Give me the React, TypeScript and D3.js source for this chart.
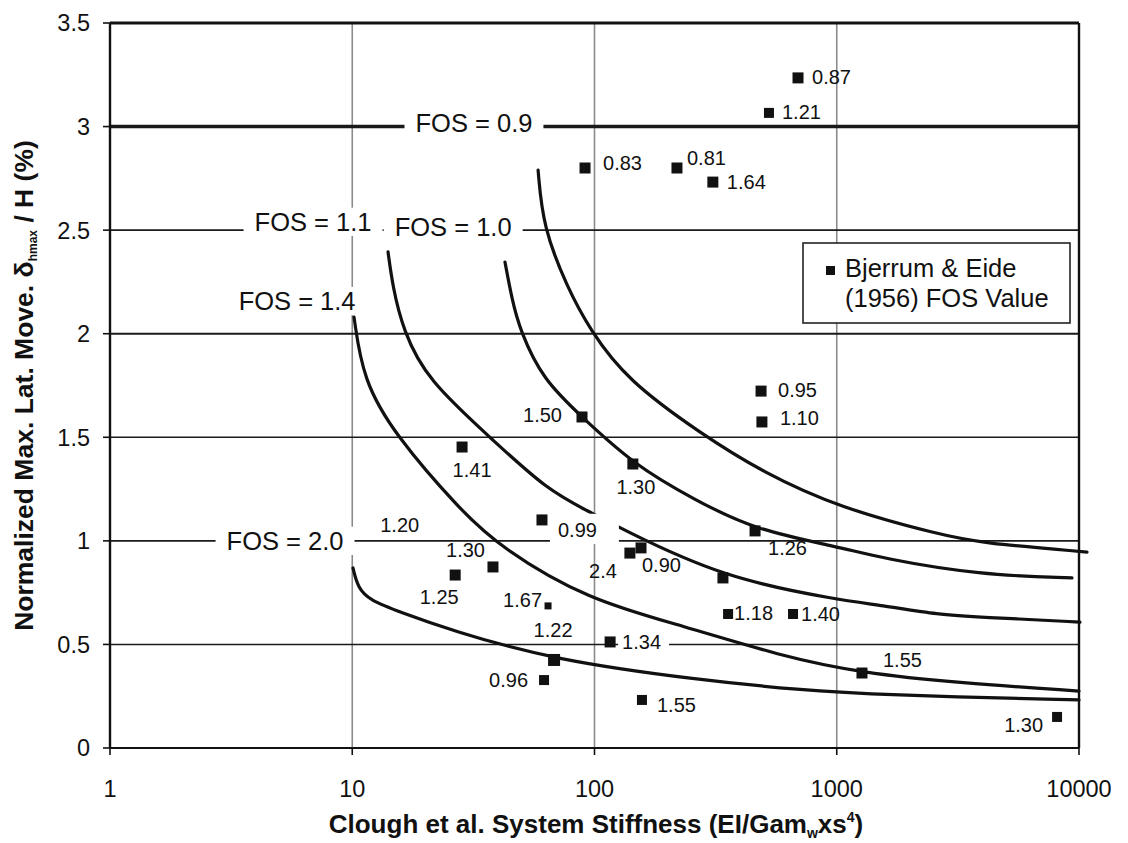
import React from "react";
import * as d3 from "d3";

// ---- axis ticks ----
const stiffnessTicks = [1, 10, 100, 1000, 10000];
const movementTicks = [0, 0.5, 1, 1.5, 2, 2.5, 3, 3.5];
const gridStiffness = [10, 100, 1000];
const gridMovement = [0.5, 1, 1.5, 2, 2.5, 3];

// ---- FOS design curves: [system stiffness, normalized max. lateral movement (%)] ----
const fos09Curve: [number, number][] = [
  [58.5, 2.79], [61.3, 2.515], [77, 2.226], [95.8, 2.018], [136, 1.777], [273, 1.52],
  [496, 1.33], [1031, 1.159], [2667, 1.03], [3902, 0.99], [10790, 0.946],
];
const fos10Curve: [number, number][] = [
  [42.7, 2.346], [45.7, 2.163], [49.2, 2.018], [61.3, 1.777], [88.8, 1.598], [144, 1.371],
  [260, 1.197], [460, 1.052], [1031, 0.97], [1510, 0.917], [3902, 0.835], [9354, 0.821],
];
const fos11Curve: [number, number][] = [
  [14.05, 2.395], [14.7, 2.226], [16.2, 2.018], [20.35, 1.777], [38.1, 1.487], [63.7, 1.246],
  [95.8, 1.139], [127, 1.062], [339, 0.821], [1031, 0.714], [1510, 0.69], [2667, 0.642],
  [3902, 0.632], [10090, 0.608],
];
const fos14Curve: [number, number][] = [
  [10.17, 2.08], [11.08, 1.777], [15.0, 1.511], [27.9, 1.149], [40.7, 0.97], [94, 0.714],
  [232, 0.59], [583, 0.445], [1271, 0.362], [3228, 0.314], [10000, 0.275],
];
const fos20Curve: [number, number][] = [
  [10.07, 0.869], [10.56, 0.772], [11.8, 0.714], [15.7, 0.657], [25.3, 0.57], [67.4, 0.425],
  [273, 0.328], [705, 0.28], [1510, 0.256], [10000, 0.232],
];

const fosNames = ["FOS = 0.9", "FOS = 1.0", "FOS = 1.1", "FOS = 1.4", "FOS = 2.0"];
const fosLabelStiffness = [31.8, 26.1, 6.89, 5.92, 5.28];
const fosLabelMovement = [3.02, 2.515, 2.54, 2.158, 1.0];

// ---- Bjerrum & Eide (1956) case histories ----
const caseStiffness = [
  692, 525, 91.4, 219, 308, 487, 491, 88.8, 28.4, 144, 60.7, 460, 140, 155.6, 339, 356, 660,
  38.1, 26.6, 64.3, 68.1, 61.9, 116, 157, 1271, 8118,
];
const caseMovement = [
  3.235, 3.066, 2.8, 2.8, 2.732, 1.723, 1.574, 1.598, 1.453, 1.371, 1.101, 1.048, 0.941, 0.966,
  0.821, 0.647, 0.647, 0.874, 0.835, 0.686, 0.425, 0.328, 0.512, 0.232, 0.362, 0.15,
];
const caseFos = [
  "0.87", "1.21", "0.83", "0.81", "1.64", "0.95", "1.10", "1.50", "1.41", "1.30", "0.99", "1.26",
  "2.4", "0.90", "", "1.18", "1.40", "1.30", "1.25", "1.67", "1.22", "0.96", "1.34", "1.55",
  "1.55", "1.30",
];
// extra FOS note without its own marker
const noteText = ["1.20"];
const noteStiffness = [15.7];
const noteMovement = [1.077];

// label placement relative to each marker: dx, dy, anchor, white backing pad [l, r, t, b], marker size
type Place = [number, number, "start" | "middle" | "end", number[] | null, number];
const casePlacement: Place[] = [
  [14, -1, "start", null, 11],
  [13, -1, "start", null, 10],
  [18, -5, "start", null, 11],
  [10, -10, "start", null, 11],
  [14, 0, "start", null, 11],
  [17, -1, "start", null, 11],
  [18, -4, "start", null, 11],
  [-20, -2, "end", null, 11],
  [10, 23, "middle", null, 11],
  [3, 23, "middle", null, 11],
  [16, 10, "start", [8, 22, 9, 7], 11],
  [13, 17, "start", null, 11],
  [-13, 18, "end", null, 11],
  [1, 17, "start", null, 11],
  [0, 0, "start", null, 11],
  [6, -1, "start", null, 10],
  [8, 0, "start", null, 10],
  [-8, -17, "end", null, 11],
  [-16, 22, "middle", null, 11],
  [-6, -6, "end", null, 7],
  [-1, -30, "middle", [6, 6, 4, 4], 12],
  [-16, 0, "end", null, 10],
  [12, 0, "start", [4, 8, 4, 4], 11],
  [15, 5, "start", null, 10],
  [21, -13, "start", null, 11],
  [-14, 8, "end", null, 10],
];

const W = 1128;
const H = 843;
const FONT = "'Liberation Sans', Arial, Helvetica, sans-serif";
const INK = "#111";

const charEm: Record<string, number> = {
  "0": 0.556, "1": 0.556, "2": 0.556, "3": 0.556, "4": 0.556, "5": 0.556, "6": 0.556,
  "7": 0.556, "8": 0.556, "9": 0.556, ".": 0.278, " ": 0.278, "=": 0.584, F: 0.611,
  O: 0.778, S: 0.667,
};
const textWidth = (s: string, fs: number) =>
  s.split("").reduce((a, c) => a + (charEm[c] ?? 0.556), 0) * fs;

function backing(cx: number, cy: number, s: string, fs: number, anchor: string, pad: number[]) {
  const w = textWidth(s, fs);
  const x0 = anchor === "start" ? cx : anchor === "end" ? cx - w : cx - w / 2;
  const cap = 0.716 * fs;
  return {
    x: x0 - pad[0],
    y: cy - cap / 2 - pad[2],
    width: w + pad[0] + pad[1],
    height: cap + pad[2] + pad[3],
  };
}

export default function App() {
  const x = d3.scaleLog().domain([1, 10000]).range([110, 1079]);
  const y = d3.scaleLinear().domain([0, 3.5]).range([748, 23]);
  const line = d3
    .line<[number, number]>()
    .x((d) => x(d[0]))
    .y((d) => y(d[1]))
    .curve(d3.curveBasis);

  const curves = [fos09Curve, fos10Curve, fos11Curve, fos14Curve, fos20Curve];
  const labelFs = 20;
  const fosFs = 25.5;
  const tickFs = 23.5;

  const gridWidth: Record<number, number> = { 0.5: 1.6, 1: 1.6, 1.5: 1.4, 2: 2, 2.5: 1.6, 3: 3.6 };

  return (
    <svg
      width={W}
      height={H}
      viewBox={`0 0 ${W} ${H}`}
      style={{ position: "absolute", left: 0, top: 0, background: "#fff" }}
      fontFamily={FONT}
    >
      <rect x={0} y={0} width={W} height={H} fill="#fff" />

      {/* vertical grid */}
      {gridStiffness.map((s) => (
        <line key={"gx" + s} x1={x(s)} x2={x(s)} y1={y(3.5)} y2={y(0)} stroke="#8a8a8a" strokeWidth={1.6} />
      ))}
      {/* horizontal grid */}
      {gridMovement.map((m) => (
        <line key={"gy" + m} x1={x(1)} x2={x(10000)} y1={y(m)} y2={y(m)} stroke="#1a1a1a" strokeWidth={gridWidth[m]} />
      ))}

      {/* plot frame */}
      <line x1={x(1)} x2={x(10000)} y1={y(3.5)} y2={y(3.5)} stroke={INK} strokeWidth={3} />
      <line x1={x(1)} x2={x(10000)} y1={y(0)} y2={y(0)} stroke={INK} strokeWidth={2.2} />
      <line x1={x(1)} x2={x(1)} y1={y(3.5)} y2={y(0)} stroke={INK} strokeWidth={2.4} />
      <line x1={x(10000)} x2={x(10000)} y1={y(3.5)} y2={y(0)} stroke={INK} strokeWidth={2.4} />

      {/* ticks */}
      {movementTicks.map((t) => (
        <g key={"ty" + t}>
          <line x1={x(1) - 7} x2={x(1)} y1={y(t)} y2={y(t)} stroke={INK} strokeWidth={1.6} />
          <text x={90} y={y(t) + 0.36 * tickFs} textAnchor="end" fontSize={tickFs} fill={INK}>
            {t}
          </text>
        </g>
      ))}
      {stiffnessTicks.map((t) => (
        <g key={"tx" + t}>
          <line x1={x(t)} x2={x(t)} y1={y(0)} y2={y(0) + 7} stroke={INK} strokeWidth={1.6} />
          <text x={x(t)} y={797} textAnchor="middle" fontSize={tickFs} fill={INK}>
            {t}
          </text>
        </g>
      ))}

      {/* white backing of the FOS curve names (interrupts the grid) */}
      {fosNames.map((n, i) => (
        <rect
          key={"fb" + i}
          {...backing(x(fosLabelStiffness[i]), y(fosLabelMovement[i]), n, fosFs, "middle", [11, 11, 5, 5])}
          fill="#fff"
        />
      ))}

      {/* FOS curves */}
      {curves.map((c, i) => (
        <path key={"c" + i} d={line(c) || ""} fill="none" stroke={INK} strokeWidth={3.2} strokeLinecap="round" />
      ))}

      {/* FOS curve names */}
      {fosNames.map((n, i) => (
        <text
          key={"fos" + i}
          x={x(fosLabelStiffness[i])}
          y={y(fosLabelMovement[i]) + 0.358 * fosFs}
          textAnchor="middle"
          fontSize={fosFs}
          fill={INK}
        >
          {n}
        </text>
      ))}

      {/* white backing under some case labels */}
      {caseFos.map((f, i) => {
        const p = casePlacement[i];
        if (!f || !p[3]) return null;
        const cx = x(caseStiffness[i]) + p[0];
        const cy = y(caseMovement[i]) + p[1];
        return <rect key={"bk" + i} {...backing(cx, cy, f, labelFs, p[2], p[3])} fill="#fff" />;
      })}

      {/* case markers */}
      {caseStiffness.map((s, i) => {
        const sz = casePlacement[i][4];
        return (
          <rect
            key={"m" + i}
            x={x(s) - sz / 2}
            y={y(caseMovement[i]) - sz / 2}
            width={sz}
            height={sz}
            fill={INK}
          />
        );
      })}

      {/* case FOS labels */}
      {caseFos.map((f, i) => {
        if (!f) return null;
        const p = casePlacement[i];
        const cx = x(caseStiffness[i]) + p[0];
        const cy = y(caseMovement[i]) + p[1];
        return (
          <text key={"l" + i} x={cx} y={cy + 0.358 * labelFs} textAnchor={p[2]} fontSize={labelFs} fill={INK}>
            {f}
          </text>
        );
      })}
      {noteText.map((t, i) => (
        <text
          key={"n" + i}
          x={x(noteStiffness[i])}
          y={y(noteMovement[i]) + 0.358 * labelFs}
          textAnchor="middle"
          fontSize={labelFs}
          fill={INK}
        >
          {t}
        </text>
      ))}

      {/* legend */}
      <g>
        <rect x={803} y={243} width={267} height={80} fill="#fff" stroke="#222" strokeWidth={1.6} />
        <rect x={826} y={266} width={9} height={9} fill={INK} />
        <text x={845} y={277} fontSize={25.5} fill={INK}>
          Bjerrum &amp; Eide
        </text>
        <text x={845} y={307} fontSize={25.5} fill={INK}>
          (1956) FOS Value
        </text>
      </g>

      {/* axis titles */}
      <text x={596} y={833} textAnchor="middle" fontSize={26} fontWeight="bold" fill={INK}>
        Clough et al. System Stiffness (EI/Gam
        <tspan fontSize={14} dy={5}>w</tspan>
        <tspan dy={-5}>xs</tspan>
        <tspan fontSize={14} dy={-11}>4</tspan>
        <tspan dy={11}>)</tspan>
      </text>
      <text
        transform={`translate(33,${(y(0) + y(3.5)) / 2}) rotate(-90)`}
        textAnchor="middle"
        fontSize={26.5}
        fontWeight="bold"
        fill={INK}
      >
        Normalized Max. Lat. Move. δ
        <tspan fontSize={12} dy={4}>hmax</tspan>
        <tspan dy={-4}> / H (%)</tspan>
      </text>
    </svg>
  );
}
